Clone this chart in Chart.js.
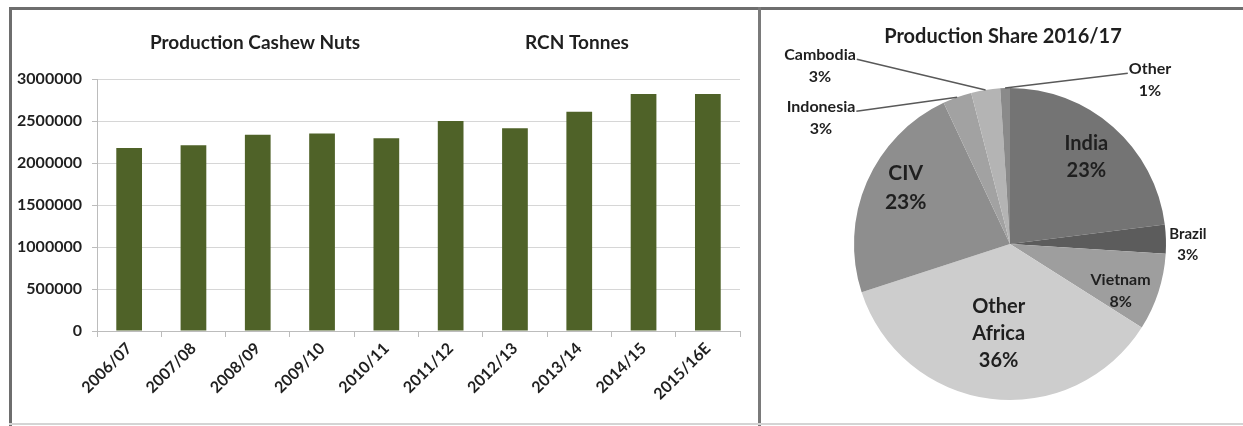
<!DOCTYPE html>
<html>
<head>
<meta charset="utf-8">
<script src="https://cdn.jsdelivr.net/npm/chart.js@4"></script>
<style>
  html, body { margin: 0; padding: 0; background: #fff; }
  #wrap { position: relative; width: 1243px; height: 426px; overflow: hidden; }
  .ln { position: absolute; background: #6e6e6e; }
  #left { position: absolute; left: 12px; top: 10px; width: 746px; height: 414px; }
  #right { position: absolute; left: 762px; top: 10px; width: 478px; height: 414px; }
</style>
</head>
<body>
<div id="wrap">
  <div class="ln" style="left:9px;top:7px;width:1234px;height:3px;"></div>
  <div class="ln" style="left:9px;top:7px;width:3px;height:419px;"></div>
  <div class="ln" style="left:758px;top:7px;width:3px;height:419px;background:#7a7a7a;"></div>
  <div class="ln" style="left:9px;top:423px;width:1234px;height:2px;background:#d4d4d4;"></div>
  <div id="left"><canvas id="graficoRcn"></canvas></div>
  <div id="right"><canvas id="graficoShare"></canvas></div>
</div>
<script>
// Production Cashew Nuts - RCN tonnes por safra
const safras = ["2006/07", "2007/08", "2008/09", "2009/10", "2010/11", "2011/12", "2012/13", "2013/14", "2014/15", "2015/16E"];
const rcnTonnes = [2180000, 2210000, 2335000, 2350000, 2295000, 2500000, 2415000, 2610000, 2820000, 2820000];

// Production Share 2016/17
const origens = ["India", "Brazil", "Vietnam", "Other Africa", "CIV", "Indonesia", "Cambodia", "Other"];
const participacao = [23, 3, 8, 36, 23, 3, 3, 1];

const fonte = "Lato, Carlito, 'Liberation Sans', sans-serif";
const corTexto = "#1f1f1f";

const cinzas = ["#747474", "#5c5c5c", "#9e9e9e", "#cdcdcd", "#8e8e8e", "#a2a2a2", "#b4b4b4", "#8a8a8a"];

// estilo dos rótulos da pizza (k = fração do raio, a = ajuste de ângulo em graus)
const estiloRotulo = {
    "India": { k: 0.74, a: 0, size: 20 },
    "Brazil": { k: 1.14, a: 2, size: 15 },
    "Vietnam": { k: 0.77, a: 5, size: 16 },
    "Other Africa": { k: 0.58, a: 0, size: 20 },
    "CIV": { k: 0.76, a: 5, size: 21 },
    "Indonesia": { dx: -189, dy: -126, size: 16, lado: "right" },
    "Cambodia": { dx: -190, dy: -178, size: 16, lado: "right" },
    "Other": { dx: 140, dy: -164, size: 16, lado: "left" }
};

const titulosBarras = {
    id: "titulosBarras",
    afterDraw(chart) {
        const ctx = chart.ctx;
        ctx.save();
        ctx.font = "bold 19px " + fonte;
        ctx.fillStyle = corTexto;
        ctx.textAlign = "center";
        ctx.textBaseline = "middle";
        ctx.fillText("Production Cashew Nuts", 243, 33);
        ctx.fillText("RCN Tonnes", 565, 33);
        ctx.restore();
    }
};

const rotulosPizza = {
    id: "rotulosPizza",
    afterDraw(chart) {
        const ctx = chart.ctx;
        const meta = chart.getDatasetMeta(0);
        ctx.save();
        ctx.font = "bold 20px " + fonte;
        ctx.fillStyle = corTexto;
        ctx.textAlign = "center";
        ctx.textBaseline = "middle";
        ctx.fillText("Production Share 2016/17", 241, 27);

        meta.data.forEach((arco, i) => {
            const nome = origens[i];
            const est = estiloRotulo[nome];
            const linhas = nome.split(" ").concat([participacao[i] + "%"]);
            const passo = est.size * 1.35;
            ctx.font = "bold " + est.size + "px " + fonte;
            const meio = (arco.startAngle + arco.endAngle) / 2;
            let cx, cy;
            if (est.k !== undefined) {
                const ang = meio + est.a * Math.PI / 180;
                cx = arco.x + Math.cos(ang) * arco.outerRadius * est.k;
                cy = arco.y + Math.sin(ang) * arco.outerRadius * est.k;
            } else {
                cx = arco.x + est.dx;
                cy = arco.y + est.dy;
                // linha de chamada até a borda da fatia
                const y0 = cy - passo * (linhas.length - 1) / 2;
                const w = ctx.measureText(linhas[0]).width;
                const lx = est.lado === "right" ? cx + w / 2 + 1 : cx - w / 2 - 1;
                ctx.strokeStyle = "#595959";
                ctx.lineWidth = 1.5;
                ctx.beginPath();
                ctx.moveTo(lx, y0 + 4);
                ctx.lineTo(arco.x + Math.cos(meio) * arco.outerRadius, arco.y + Math.sin(meio) * arco.outerRadius);
                ctx.stroke();
            }
            linhas.forEach((t, j) => {
                ctx.fillText(t, cx, cy + (j - (linhas.length - 1) / 2) * passo);
            });
        });
        ctx.restore();
    }
};

new Chart(document.getElementById("graficoRcn").getContext("2d"), {
    type: "bar",
    data: {
        labels: safras,
        datasets: [{
            label: "RCN Tonnes",
            data: rcnTonnes,
            backgroundColor: "#4f6228",
            borderWidth: 0,
            barPercentage: 0.4,
            categoryPercentage: 1
        }]
    },
    options: {
        responsive: true,
        maintainAspectRatio: false,
        animation: false,
        layout: { padding: { left: 0, right: 18, top: 69, bottom: 0 } },
        plugins: {
            legend: { display: false },
            tooltip: { enabled: false }
        },
        scales: {
            y: {
                min: 0,
                max: 3000000,
                afterFit: (s) => { s.width = 85; },
                ticks: {
                    stepSize: 500000,
                    color: corTexto,
                    padding: 10,
                    callback: (v) => String(v),
                    font: { family: fonte, size: 16, weight: "bold" }
                },
                grid: { color: "#d6d6d6", tickLength: 5, tickColor: "#bcbcbc" },
                border: { color: "#bcbcbc" }
            },
            x: {
                afterFit: (s) => { s.height = 93; },
                ticks: {
                    minRotation: 45,
                    maxRotation: 45,
                    color: corTexto,
                    padding: 2,
                    font: { family: fonte, size: 16, weight: "bold" }
                },
                grid: { drawOnChartArea: false, tickLength: 6, color: "#bcbcbc" },
                border: { color: "#bcbcbc" }
            }
        }
    },
    plugins: [titulosBarras]
});

new Chart(document.getElementById("graficoShare").getContext("2d"), {
    type: "pie",
    data: {
        labels: origens,
        datasets: [{
            label: "Production Share 2016/17",
            data: participacao,
            backgroundColor: cinzas,
            borderWidth: 0
        }]
    },
    options: {
        responsive: true,
        maintainAspectRatio: false,
        animation: false,
        layout: { padding: { left: 60, right: 42, top: 78, bottom: 24 } },
        plugins: {
            legend: { display: false },
            tooltip: { enabled: false }
        }
    },
    plugins: [rotulosPizza]
});
</script>
</body>
</html>
